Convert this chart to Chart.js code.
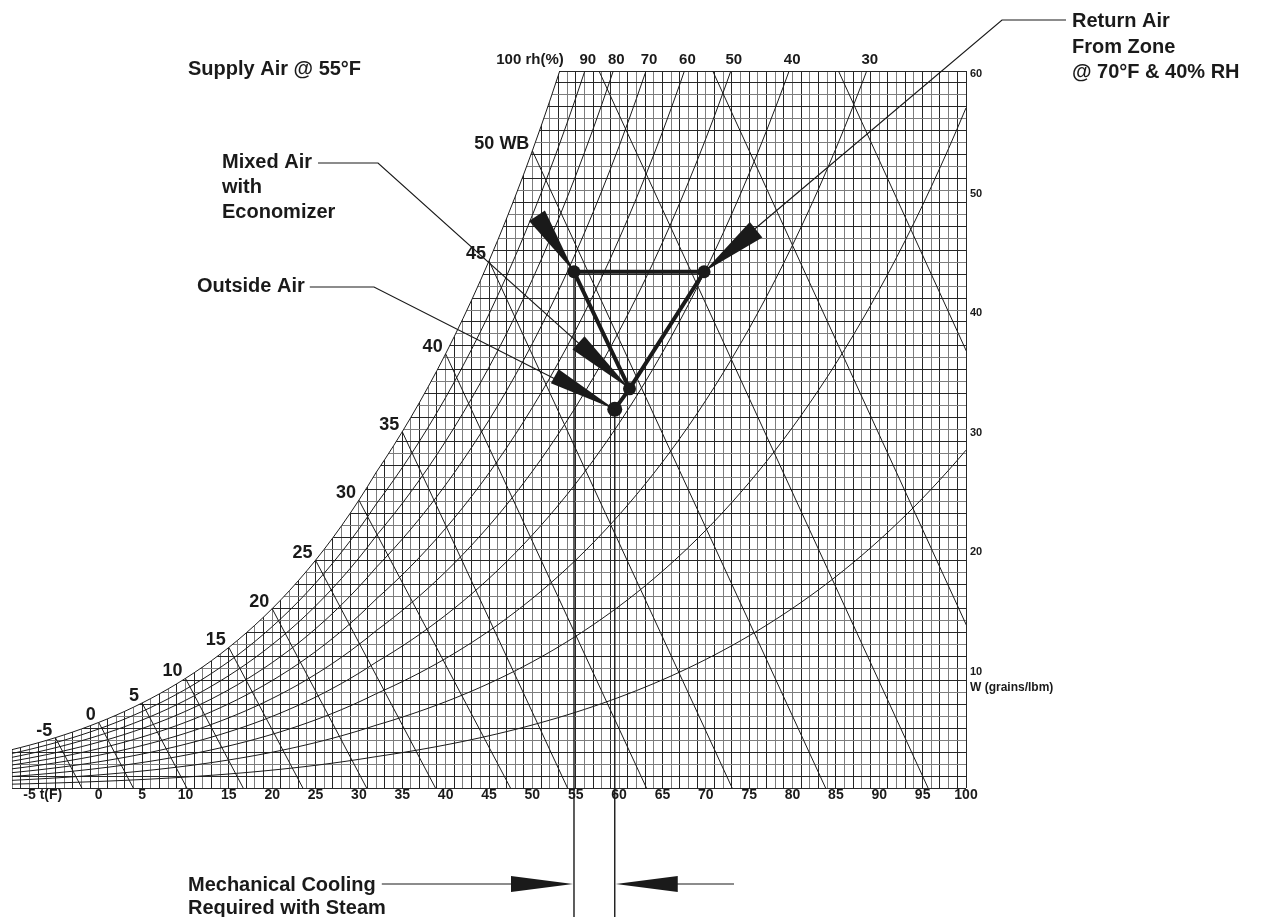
<!DOCTYPE html>
<html>
<head>
<meta charset="utf-8">
<title>Psychrometric chart - economizer</title>
<script src="https://cdn.jsdelivr.net/npm/chart.js@4.4.1/dist/chart.umd.min.js"></script>
<style>
  html, body { margin: 0; padding: 0; background: #fff; }
  #wrap { width: 1263px; height: 917px; position: relative; }
</style>
</head>
<body>
<div id="wrap"><canvas id="psychro"></canvas></div>
<script>
// chart data
const rhLevels = [90, 80, 70, 60, 50, 40, 30, 20, 10];      // relative humidity curves, %
const rhLabels = [100, 90, 80, 70, 60, 50, 40, 30];          // labelled along the top edge
const wbLines = [-5, 0, 5, 10, 15, 20, 25, 30, 35, 40, 45, 50, 55, 60, 65]; // wet bulb, F
const wbLabels = [-5, 0, 5, 10, 15, 20, 25, 30, 35, 40, 45, 50];
const stateNames = ['Supply Air', 'Return Air', 'Mixed Air', 'Outside Air'];
const stateTemp = [54.8, 69.8, 61.2, 59.5];     // dry bulb, F
const stateGrains = [43.2, 43.2, 33.4, 31.7];   // humidity ratio, grains/lbm
const processPath = [3, 2, 0, 1, 2];            // outside -> mixed -> supply -> return -> mixed
const tMin = -10, tMax = 100, wMax = 60;

const FONT = '"Liberation Sans", Arial, sans-serif';
const ink = '#1a1a1a';
const gridDark = '#262626';
const gridGrey = '#7d7d7d';

// psychrometrics at sea level
const P_ATM = 1013.25; // hPa
function satPress(tF) {
    const c = (tF - 32) / 1.8;
    if (c >= 0) return 6.112 * Math.exp(17.62 * c / (243.12 + c));
    return 6.112 * Math.exp(22.46 * c / (272.62 + c));
}
function grains(tF, rh) {
    const pw = rh * satPress(tF);
    return 7000 * 0.622 * pw / (P_ATM - pw);
}
function tempAt(w, rh) {
    let lo = -40, hi = 140;
    for (let i = 0; i < 60; i++) {
        const mid = (lo + hi) / 2;
        if (grains(mid, rh) < w) lo = mid; else hi = mid;
    }
    return (lo + hi) / 2;
}
// dry bulb where a wet bulb line reaches W = 0
function wbDryEnd(twb) {
    const ws = grains(twb, 1) / 7000;
    const h = twb >= 32 ? (1093 - 0.556 * twb) : (1220 - 0.04 * twb);
    return twb + h * ws / 0.24;
}

function curve(rh, tEnd) {
    const pts = [];
    for (let t = tMin; t <= tEnd; t++) pts.push({x: t, y: grains(t, rh)});
    return pts;
}

const thin = {borderColor: ink, borderWidth: 1, pointRadius: 0, fill: false, order: 5};

const datasets = [];
datasets.push(Object.assign({}, thin, {
    label: 'saturation', data: curve(1, 56),
    fill: 'end', backgroundColor: '#ffffff', order: 10
}));
rhLevels.forEach(rh => {
    datasets.push(Object.assign({}, thin, {label: rh + '% rh', data: curve(rh / 100, tMax)}));
});
wbLines.forEach(t => {
    datasets.push(Object.assign({}, thin, {
        label: t + ' WB',
        data: [{x: t, y: grains(t, 1)}, {x: wbDryEnd(t), y: 0}]
    }));
});
// drop lines from supply and outside air down past the axis
[0, 3].forEach(i => {
    datasets.push({
        label: stateNames[i] + ' drop',
        data: [{x: stateTemp[i], y: stateGrains[i]}, {x: stateTemp[i], y: -10.8}],
        borderColor: ink, borderWidth: 1.4, pointRadius: 0, fill: false, clip: false, order: 3
    });
});
datasets.push({
    label: 'process',
    data: processPath.map(i => ({x: stateTemp[i], y: stateGrains[i]})),
    borderColor: ink, borderWidth: 4, pointRadius: 0, fill: false, order: 2
});
datasets.push({
    label: 'states',
    data: stateTemp.map((t, i) => ({x: t, y: stateGrains[i]})),
    showLine: false, pointRadius: [6.5, 6.5, 6.5, 7.5], pointBorderWidth: 0,
    pointBackgroundColor: ink, order: 1
});

function wedge(ctx, tx, ty, dx, dy, hw) {
    const len = Math.hypot(dx, dy);
    const nx = -dy / len * hw, ny = dx / len * hw;
    ctx.beginPath();
    ctx.moveTo(tx, ty);
    ctx.lineTo(tx + dx + nx, ty + dy + ny);
    ctx.lineTo(tx + dx - nx, ty + dy - ny);
    ctx.closePath();
    ctx.fill();
}
function line(ctx, pts) {
    ctx.beginPath();
    ctx.moveTo(pts[0][0], pts[0][1]);
    for (let i = 1; i < pts.length; i++) ctx.lineTo(pts[i][0], pts[i][1]);
    ctx.stroke();
}

const notes = {
    id: 'notes',
    afterDatasetsDraw(chart) {
        const {ctx} = chart;
        const xs = chart.scales.x, ys = chart.scales.y;
        const px = i => xs.getPixelForValue(stateTemp[i]);
        const py = i => ys.getPixelForValue(stateGrains[i]);
        ctx.save();
        ctx.fillStyle = ink;
        ctx.strokeStyle = ink;

        // rh labels across the top
        ctx.font = 'bold 15px ' + FONT;
        ctx.textBaseline = 'middle';
        rhLabels.forEach(rh => {
            const xp = xs.getPixelForValue(tempAt(wMax, rh / 100));
            if (rh === 100) {
                ctx.textAlign = 'right';
                ctx.fillText('100 rh(%)', xp + 4, 60);
            } else {
                ctx.textAlign = 'center';
                ctx.fillText(String(rh), xp + 3, 60);
            }
        });

        // wet bulb labels at the saturation curve
        ctx.font = 'bold 18px ' + FONT;
        ctx.textAlign = 'right';
        wbLabels.forEach(t => {
            const txt = t === 50 ? '50 WB' : String(t);
            ctx.fillText(txt, xs.getPixelForValue(t) - 3, ys.getPixelForValue(grains(t, 1)) - 7);
        });

        // axis captions
        ctx.textAlign = 'left';
        ctx.font = 'bold 14px ' + FONT;
        ctx.fillText('-5 t(F)', xs.getPixelForValue(-5) - 32, 795);
        ctx.font = 'bold 12px ' + FONT;
        ctx.fillText('W (grains/lbm)', xs.right + 4, ys.getPixelForValue(10) + 19);

        // annotations
        ctx.font = 'bold 20px ' + FONT;
        ctx.textBaseline = 'alphabetic';
        ctx.lineWidth = 1.2;
        ctx.fillText('Supply Air @ 55\u00B0F', 188, 75);

        ['Mixed Air', 'with', 'Economizer'].forEach((s, k) => ctx.fillText(s, 222, 168 + k * 25));
        let end = 222 + ctx.measureText('Mixed Air').width + 6;
        line(ctx, [[end, 163], [378, 163], [px(2), py(2)]]);

        ctx.fillText('Outside Air', 197, 292);
        end = 197 + ctx.measureText('Outside Air').width + 5;
        line(ctx, [[end, 287], [374, 287], [px(3), py(3)]]);

        ['Return Air', 'From Zone', '@ 70\u00B0F & 40% RH'].forEach((s, k) => ctx.fillText(s, 1072, 27 + k * 25.5));
        line(ctx, [[1066, 20], [1002, 20], [px(1), py(1)]]);

        // pointers into the state points
        wedge(ctx, px(0), py(0), -37, -56, 9.5);
        wedge(ctx, px(1), py(1), 52, -42, 10);
        wedge(ctx, px(2), py(2), -51, -46, 9);
        wedge(ctx, px(3), py(3), -60, -33, 8);

        // mechanical cooling band below the axis
        const yb = 884;
        ['Mechanical Cooling', 'Required with Steam'].forEach((s, k) => ctx.fillText(s, 188, 891 + k * 23));
        end = 188 + ctx.measureText('Mechanical Cooling').width + 6;
        const lTip = px(0) - 1, rTip = px(3) + 1;
        line(ctx, [[end, yb], [lTip - 60, yb]]);
        wedge(ctx, lTip, yb, -62, 0, 8);
        line(ctx, [[rTip + 60, yb], [734, yb]]);
        wedge(ctx, rTip, yb, 62, 0, 8);

        ctx.restore();
    }
};

const gridColor = (c) => {
    const v = c.tick.value;
    if (v === tMax || v === 0 && c.scale.axis === 'y' || v === wMax && c.scale.axis === 'y') return gridDark;
    return Math.abs(v) % 2 === 1 ? gridDark : gridGrey;
};

const config = {
    type: 'line',
    data: {datasets: datasets},
    plugins: [notes],
    options: {
        responsive: true,
        maintainAspectRatio: false,
        animation: false,
        events: [],
        layout: {padding: {left: 12, top: 71, right: 0, bottom: 0}},
        plugins: {legend: {display: false}, tooltip: {enabled: false}},
        scales: {
            x: {
                type: 'linear', min: tMin, max: tMax,
                afterFit: s => { s.height = 129; },
                border: {display: false},
                grid: {color: gridColor, lineWidth: 1, drawTicks: false},
                ticks: {
                    stepSize: 1, autoSkip: false, maxRotation: 0, padding: -1,
                    color: ink, font: {family: FONT, size: 14, weight: 'bold'},
                    callback: v => (v >= 0 && v % 5 === 0) ? String(v) : ''
                }
            },
            y: {
                type: 'linear', position: 'right', min: 0, max: wMax,
                afterFit: s => { s.width = 297; },
                border: {display: false},
                grid: {color: gridColor, lineWidth: 1, drawTicks: false},
                ticks: {
                    stepSize: 1, autoSkip: false, padding: 4, labelOffset: 3,
                    color: ink, font: {family: FONT, size: 11, weight: 'bold'},
                    callback: v => (v > 0 && v % 10 === 0) ? String(v) : ''
                }
            }
        }
    }
};

const psychroChart = new Chart(document.getElementById('psychro').getContext('2d'), config);
</script>
</body>
</html>
